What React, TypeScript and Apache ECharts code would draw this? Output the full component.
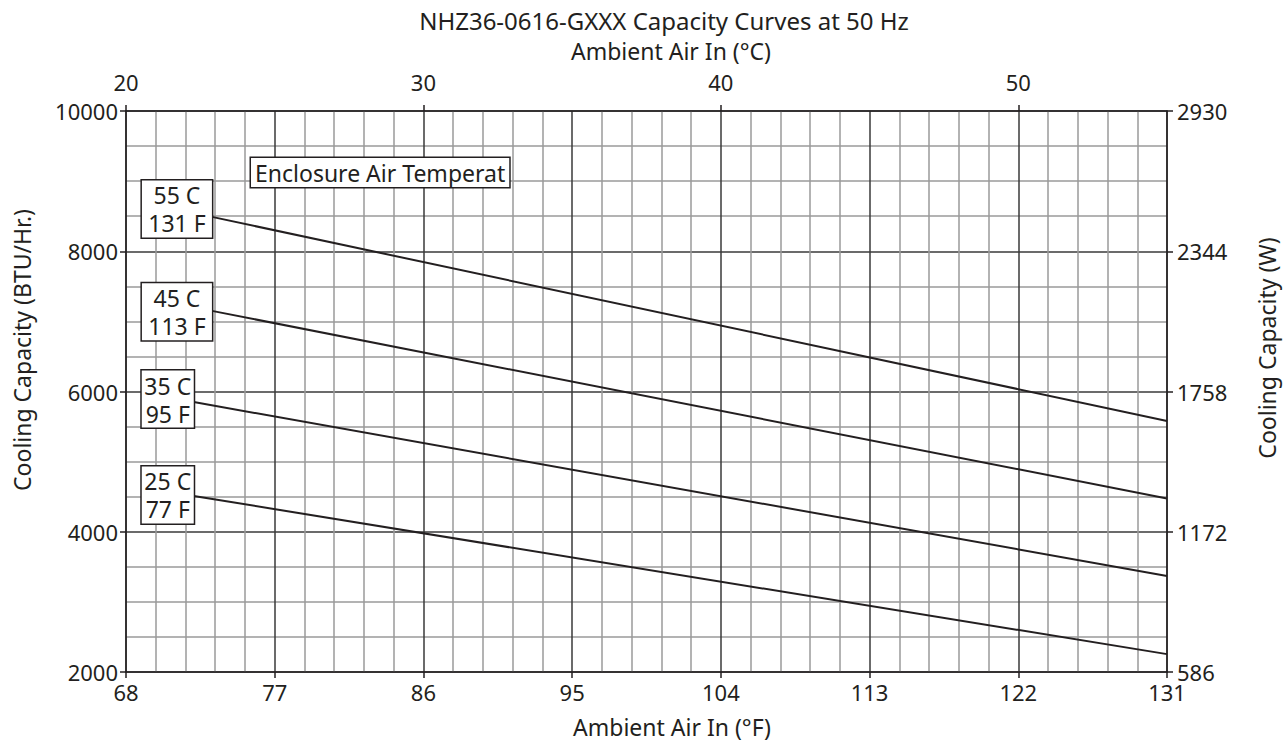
import React, { useEffect, useRef } from "react";
import * as echarts from "echarts";

// ---- data ----
const enclosureLabels = ["55 C\n131 F", "45 C\n113 F", "35 C\n95 F", "25 C\n77 F"];
const ambientF55 = [73.2, 131];
const capacity55 = [8490, 5580];
const ambientF45 = [73.2, 131];
const capacity45 = [7150, 4475];
const ambientF35 = [72.1, 131];
const capacity35 = [5850, 3370];
const ambientF25 = [72.1, 131];
const capacity25 = [4510, 2255];

const bottomMinC = 20;
const bottomMaxC = 55;
const btuMin = 2000;
const btuMax = 10000;
const wattMin = 586;
const wattMax = 2930;

const TXT = "#231f20";
const FONT = "Noto Sans";

const toC = (f: number) => ((f - 32) * 5) / 9;

function makeSeries(
  name: string,
  xs: number[],
  ys: number[],
  boxWidth: number,
  offsetY: number
) {
  const [l1, l2] = name.split("\n");
  return {
    type: "line",
    name,
    xAxisIndex: 0,
    yAxisIndex: 0,
    symbol: "circle",
    symbolSize: 0,
    showSymbol: true,
    lineStyle: { color: TXT, width: 2 },
    itemStyle: { color: TXT },
    z: 5,
    data: xs.map((x, i) => {
      const v = [toC(x), ys[i]];
      if (i !== 0) return v;
      return {
        value: v,
        label: {
          show: true,
          position: "left",
          distance: 0,
          offset: [0, offsetY],
          formatter: `{a|${l1}}\n{a|${l2}}`,
          backgroundColor: "#fff",
          borderColor: TXT,
          borderWidth: 1.5,
          padding: [1, 0, 0, 0],
          rich: {
            a: {
              width: boxWidth,
              align: "center",
              fontSize: 23,
              lineHeight: 28,
              fontFamily: FONT,
              color: TXT,
            },
          },
        },
      };
    }),
  };
}

export default function App() {
  const ref = useRef<HTMLDivElement>(null);
  useEffect(() => {
    if (!ref.current) return;
    const chart = echarts.init(ref.current, null, { renderer: "svg" });
    const axisTextStyle = { fontSize: 22, fontFamily: FONT, color: TXT };
    const nameStyle = {
      fontSize: 23,
      fontFamily: FONT,
      fill: TXT,
      align: "center",
      verticalAlign: "middle",
    };
    chart.setOption({
      animation: false,
      backgroundColor: "#fff",
      grid: { left: 126, right: 116, top: 111, bottom: 72, containLabel: false },
      xAxis: [
        {
          type: "value",
          position: "bottom",
          min: bottomMinC,
          max: bottomMaxC,
          interval: 5,
          axisLine: { show: true, lineStyle: { color: TXT, width: 1.5 } },
          axisTick: { show: true, inside: false, length: 6, lineStyle: { color: TXT, width: 1.5 } },
          axisLabel: {
            ...axisTextStyle,
            margin: 9,
            formatter: (v: number) => String(Math.round((v * 9) / 5 + 32)),
          },
          splitLine: { show: true, lineStyle: { color: "#3a3a3a", width: 1.5 } },
          minorTick: { show: false, splitNumber: 5 },
          minorSplitLine: { show: true, lineStyle: { color: "#9a9a9a", width: 1.5 } },
        },
        {
          type: "value",
          position: "top",
          min: bottomMinC,
          max: bottomMaxC,
          interval: 10,
          axisLine: { show: true, lineStyle: { color: TXT, width: 1.5 } },
          axisTick: { show: true, inside: false, length: 6, lineStyle: { color: TXT, width: 1.5 } },
          axisLabel: {
            ...axisTextStyle,
            margin: 18,
            showMaxLabel: false,
            formatter: (v: number) => (v >= bottomMaxC ? "" : String(v)),
          },
          splitLine: { show: false },
        },
      ],
      yAxis: [
        {
          type: "value",
          position: "left",
          min: btuMin,
          max: btuMax,
          interval: 2000,
          axisLine: { show: true, lineStyle: { color: TXT, width: 1.5 } },
          axisTick: { show: true, inside: false, length: 6, lineStyle: { color: TXT, width: 1.5 } },
          axisLabel: { ...axisTextStyle, margin: 8, formatter: (v: number) => String(v) },
          splitLine: { show: true, lineStyle: { color: "#3a3a3a", width: 1.5 } },
          minorTick: { show: false, splitNumber: 4 },
          minorSplitLine: { show: true, lineStyle: { color: "#9a9a9a", width: 1.5 } },
        },
        {
          type: "value",
          position: "right",
          min: wattMin,
          max: wattMax,
          interval: 586,
          axisLine: { show: true, lineStyle: { color: TXT, width: 1.5 } },
          axisTick: { show: true, inside: false, length: 6, lineStyle: { color: TXT, width: 1.5 } },
          axisLabel: { ...axisTextStyle, margin: 10, formatter: (v: number) => String(v) },
          splitLine: { show: false },
        },
      ],
      graphic: [
        {
          type: "text",
          x: 664,
          y: 20,
          style: { ...nameStyle, fontSize: 24, text: "NHZ36-0616-GXXX Capacity Curves at 50 Hz" },
        },
        {
          type: "text",
          x: 671,
          y: 51,
          style: { ...nameStyle, text: "Ambient Air In (°C)" },
        },
        {
          type: "text",
          x: 672,
          y: 727,
          style: { ...nameStyle, text: "Ambient Air In (°F)" },
        },
        {
          type: "text",
          x: 22,
          y: 350,
          rotation: Math.PI / 2,
          style: { ...nameStyle, text: "Cooling Capacity (BTU/Hr.)" },
        },
        {
          type: "text",
          x: 1267,
          y: 348,
          rotation: Math.PI / 2,
          style: { ...nameStyle, text: "Cooling Capacity (W)" },
        },
        {
          type: "text",
          x: 251,
          y: 158,
          z: 10,
          style: {
            text: "Enclosure Air Temperat",
            fontSize: 23,
            fontFamily: FONT,
            fill: TXT,
            backgroundColor: "#fff",
            borderColor: TXT,
            borderWidth: 1.5,
            padding: [0, 4, 0, 4],
            lineHeight: 29,
          },
        },
      ],
      series: [
        makeSeries(enclosureLabels[0], ambientF55, capacity55, 70, -8),
        makeSeries(enclosureLabels[1], ambientF45, capacity45, 70, 1),
        makeSeries(enclosureLabels[2], ambientF35, capacity35, 52, -3),
        makeSeries(enclosureLabels[3], ambientF25, capacity25, 52, -1),
      ],
    });
    return () => chart.dispose();
  }, []);
  return (
    <div
      ref={ref}
      style={{ position: "fixed", left: 0, top: 0, width: 1283, height: 744 }}
    />
  );
}
